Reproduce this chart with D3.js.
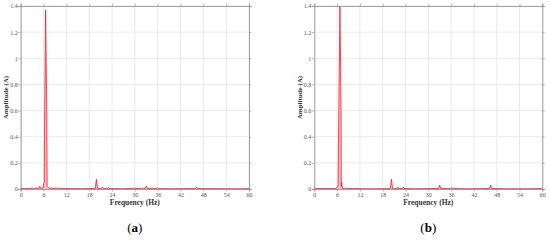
<!DOCTYPE html>
<html>
<head>
<meta charset="utf-8">
<script src="https://cdn.jsdelivr.net/npm/d3@7"></script>
<style>
  body { margin: 0; background: #fff; }
  svg { display: block; }
</style>
</head>
<body>
<svg id="base" width="550" height="240"></svg>
<script>
// spectrum (a): frequency (Hz) and amplitude (A)
let freqA = [0, 1, 2, 3, 3.4, 4.2, 4.6, 4.8, 5.0, 5.2, 5.9, 6.1, 6.2, 6.3, 6.55, 6.85, 6.95, 7.2, 7.5, 7.8, 8.0, 8.2, 9, 10, 11, 12, 13, 14, 16, 18, 19.6, 19.9, 20.2, 21.2, 21.5, 21.8, 22.8, 23, 23.2, 25, 27, 30, 31, 31.8, 32, 32.2, 32.7, 33, 33.3, 35, 35.8, 36, 36.2, 40, 42, 45, 46, 46.2, 46.4, 50, 54, 58, 60]
let ampA = [0.004, 0.003, 0.003, 0.006, 0.003, 0.008, 0.004, 0.004, 0.022, 0.005, 0.01, 0.045, 0.05, 0.6, 1.37, 0.6, 0.02, 0.012, 0.006, 0.004, 0.012, 0.004, 0.005, 0.006, 0.003, 0.004, 0.003, 0.003, 0.002, 0.004, 0.004, 0.075, 0.004, 0.003, 0.016, 0.003, 0.003, 0.012, 0.003, 0.003, 0.002, 0.006, 0.003, 0.003, 0.008, 0.003, 0.004, 0.022, 0.004, 0.005, 0.004, 0.01, 0.003, 0.002, 0.003, 0.003, 0.003, 0.015, 0.003, 0.003, 0.002, 0.002, 0.003]

// spectrum (b)
let freqB = [0, 0.3, 2, 4, 5.5, 5.8, 6.0, 6.25, 6.45, 6.75, 7.05, 7.1, 7.2, 7.4, 8.0, 8.2, 8.4, 10, 12, 12.8, 13, 13.2, 16, 19, 20.0, 20.3, 20.6, 21.8, 22, 22.2, 23.2, 23.4, 23.6, 26, 30, 31.5, 32.7, 33, 33.3, 35, 35.8, 36, 36.3, 37.8, 38, 38.2, 42, 44, 46.1, 46.4, 46.7, 48.5, 50, 51.8, 52, 52.2, 56, 59.7, 60]
let ampB = [0.012, 0.004, 0.003, 0.003, 0.004, 0.004, 0.015, 0.02, 0.6, 1.40, 0.6, 0.02, 0.05, 0.005, 0.004, 0.01, 0.003, 0.003, 0.003, 0.002, 0.008, 0.002, 0.002, 0.003, 0.003, 0.075, 0.003, 0.003, 0.015, 0.003, 0.004, 0.015, 0.004, 0.002, 0.003, 0.004, 0.004, 0.03, 0.004, 0.004, 0.004, 0.01, 0.006, 0.003, 0.008, 0.002, 0.002, 0.003, 0.004, 0.03, 0.004, 0.004, 0.002, 0.002, 0.008, 0.002, 0.002, 0.003, 0.012]

let xTicks = [0, 6, 12, 18, 24, 30, 36, 42, 48, 54, 60]
let yTicks = [0, 0.2, 0.4, 0.6, 0.8, 1, 1.2, 1.4]
let captions = ["a", "b"]

const serif = "'Liberation Serif', 'Times New Roman', serif"
const base = d3.select('#base')

function drawPanel(left, right, freqs, amps, cap) {
    let top = 6, bottom = 189
    let x = d3.scaleLinear().domain([0, 60]).range([left, right])
    let y = d3.scaleLinear().domain([0, 1.4]).range([bottom, top])
    let g = base.append('g')

    // grid
    g.selectAll('.gx').data(xTicks).enter().append('line')
        .attr('x1', d => x(d)).attr('x2', d => x(d))
        .attr('y1', top).attr('y2', bottom)
        .style('stroke', '#e4e4e4').style('stroke-width', 0.8)
    g.selectAll('.gy').data(yTicks).enter().append('line')
        .attr('x1', left).attr('x2', right)
        .attr('y1', d => y(d)).attr('y2', d => y(d))
        .style('stroke', '#e4e4e4').style('stroke-width', 0.8)

    // spectrum
    let pts = freqs.map((f, i) => [f, amps[i]])
    g.append('path').datum(pts)
        .attr('d', d3.area().x(d => x(d[0])).y0(y(0)).y1(d => y(d[1])))
        .style('fill', '#ffbcc0').style('stroke', 'none')
    g.append('path').datum(pts)
        .attr('d', d3.line().x(d => x(d[0])).y(d => y(d[1])))
        .style('fill', 'none').style('stroke', '#f01d2d').style('stroke-width', 0.8)

    // axes (box with ticks on all sides)
    let axB = d3.axisBottom(x).tickValues(xTicks).tickSize(2.5).tickFormat(d3.format('d'))
    let axT = d3.axisTop(x).tickValues(xTicks).tickSize(2.5).tickFormat('')
    let axL = d3.axisLeft(y).tickValues(yTicks).tickSize(2.5).tickFormat(d => d)
    let axR = d3.axisRight(y).tickValues(yTicks).tickSize(2.5).tickFormat('')
    let axes = [
        g.append('g').attr('transform', `translate(0,${bottom})`).call(axB),
        g.append('g').attr('transform', `translate(0,${top})`).call(axT),
        g.append('g').attr('transform', `translate(${left},0)`).call(axL),
        g.append('g').attr('transform', `translate(${right},0)`).call(axR)
    ]
    axes.forEach(a => {
        a.selectAll('path').style('stroke', '#8a8a8a').style('stroke-width', 0.8)
        a.selectAll('line').style('stroke', '#8a8a8a').style('stroke-width', 0.6)
        a.selectAll('text').style('font-family', serif).style('font-size', '6px').style('fill', '#555')
    })
    axes[0].selectAll('text').attr('dy', '0.7em').attr('y', 3.5)
    axes[2].selectAll('text').attr('x', -3)

    // labels
    g.append('text')
        .attr('x', (left + right) / 2).attr('y', 205)
        .attr('text-anchor', 'middle')
        .style('font-family', serif).style('font-size', '7.5px').style('font-weight', 'bold').style('fill', '#333')
        .text('Frequency (Hz)')
    g.append('text')
        .attr('transform', `translate(${left - 12.5},${(top + bottom) / 2}) rotate(-90)`)
        .attr('text-anchor', 'middle')
        .style('font-family', serif).style('font-size', '7px').style('font-weight', 'bold').style('fill', '#333')
        .text('Amplitude (A)')

    let c = g.append('text')
        .attr('x', (left + right) / 2).attr('y', 232)
        .attr('text-anchor', 'middle')
        .style('font-family', serif).style('font-size', '13px').style('fill', '#000')
    c.append('tspan').text('(')
    c.append('tspan').style('font-weight', 'bold').text(cap)
    c.append('tspan').text(')')
}

drawPanel(20.7, 249, freqA, ampA, captions[0])
drawPanel(314.3, 542.3, freqB, ampB, captions[1])
</script>
</body>
</html>
